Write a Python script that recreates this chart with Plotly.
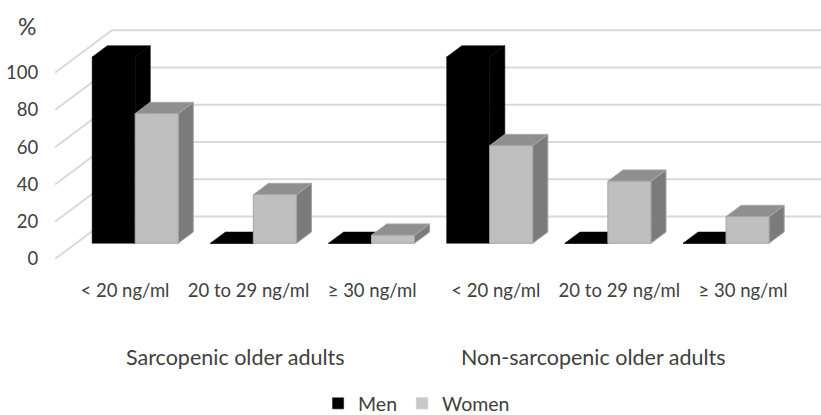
import plotly.graph_objects as go

# ---- data ----
categories = ["< 20 ng/ml", "20 to 29 ng/ml", "≥ 30 ng/ml",
              "< 20 ng/ml", "20 to 29 ng/ml", "≥ 30 ng/ml"]
groups = ["Sarcopenic older adults", "Non-sarcopenic older adults"]
men = [100, 0, 0, 100, 0, 0]
women = [69.6, 26.1, 4.3, 52.4, 33.3, 14.3]
y_ticks = [0, 20, 40, 60, 80, 100]
series_names = ["Men", "Women"]

# ---- 3D-look geometry (in axis units) ----
DX = 0.482   # depth shift along x (category units)
DY = 22.8    # depth shift along y (percent units)
D0 = 0.37    # front face depth of bars
D1 = 0.636   # back face depth of bars
BW = 0.364   # bar width
N = len(categories)

FONT = "Lato"
TXT = "#404040"
GRID = "#d9d9d9"

fig = go.Figure()

# back wall gridlines and side-wall diagonals
gx, gy = [], []
for v in y_ticks:
    gx += [-0.5, -0.5 + DX, N - 0.5 + DX, None]
    gy += [v, v + DY, v + DY, None]
fig.add_trace(go.Scatter(x=gx, y=gy, mode="lines", line=dict(color=GRID, width=2),
                         hoverinfo="skip", showlegend=False))


def poly(xs, ys, fill, line, lw=1):
    fig.add_trace(go.Scatter(x=xs + [xs[0]], y=ys + [ys[0]], mode="lines",
                             fill="toself", fillcolor=fill,
                             line=dict(color=line, width=lw),
                             hoverinfo="skip", showlegend=False))


def bar3d(x0, x1, v, cfront, ctop, cside, cline, lw):
    fx, fy = D0 * DX, D0 * DY
    bx, by = D1 * DX, D1 * DY
    # side
    poly([x1 + fx, x1 + bx, x1 + bx, x1 + fx],
         [fy, by, v + by, v + fy], cside, cline, lw)
    # top
    poly([x0 + fx, x1 + fx, x1 + bx, x0 + bx],
         [v + fy, v + fy, v + by, v + by], ctop, cline, lw)
    # front
    poly([x0 + fx, x1 + fx, x1 + fx, x0 + fx],
         [fy, fy, v + fy, v + fy], cfront, cline, lw)


for k in range(N):
    bar3d(k - BW, k, men[k], "#000000", "#000000", "#000000", "#000000", 0.5)
    bar3d(k, k + BW, women[k], "#bfbfbf", "#8f8f8f", "#7b7b7b", "#a6a6a6", 1)

# legend entries
fig.add_trace(go.Bar(x=[None], y=[None], name=series_names[0], marker_color="#000000"))
fig.add_trace(go.Bar(x=[None], y=[None], name=series_names[1], marker_color="#c8c8c8"))

# trace for category label axis
fig.add_trace(go.Scatter(x=[None], y=[None], xaxis="x2", showlegend=False, hoverinfo="skip"))

fig.update_layout(
    width=821, height=415,
    margin=dict(l=55, r=0, t=20, b=153, autoexpand=False),
    paper_bgcolor="white", plot_bgcolor="white",
    font=dict(family=FONT, color=TXT, size=18),
    showlegend=True,
    legend=dict(orientation="h", x=0.472, xanchor="center", y=-0.585, yanchor="middle",
                font=dict(size=19.5, color=TXT), itemwidth=30),
    xaxis=dict(range=[-0.5, N - 0.5 + DX], showticklabels=False, showgrid=False,
               zeroline=False, showline=False, fixedrange=True, automargin=False),
    xaxis2=dict(overlaying="x", anchor="y", side="bottom", range=[-0.566, 5.631],
                tickmode="array", tickvals=list(range(N)), ticktext=categories,
                showgrid=False, zeroline=False, showline=False, automargin=False,
                ticks="outside", ticklen=12, tickcolor="rgba(0,0,0,0)",
                tickfont=dict(size=18.5, color=TXT)),
    yaxis=dict(range=[-1.61, 128.3], tickmode="array", tickvals=y_ticks,
               showgrid=False, zeroline=False, showline=False, automargin=False,
               ticks="outside", ticklen=12, tickcolor="rgba(0,0,0,0)",
               tickfont=dict(size=18.5, color=TXT)),
    annotations=[
        dict(text="%", xref="paper", yref="paper", x=-0.0366, y=0.975,
             xanchor="center", yanchor="middle",
             showarrow=False, font=dict(size=23, color=TXT)),
        dict(text=groups[0], xref="x2", yref="paper", x=0.894, y=-0.393,
             xanchor="center", yanchor="middle",
             showarrow=False, font=dict(size=21.5, color=TXT)),
        dict(text=groups[1], xref="x2", yref="paper", x=3.79, y=-0.393,
             xanchor="center", yanchor="middle",
             showarrow=False, font=dict(size=21.5, color=TXT)),
    ],
)

fig.write_html("out.html", config={"displayModeBar": False},
               post_script="document.body.style.margin='0';document.body.style.overflow='hidden';")
